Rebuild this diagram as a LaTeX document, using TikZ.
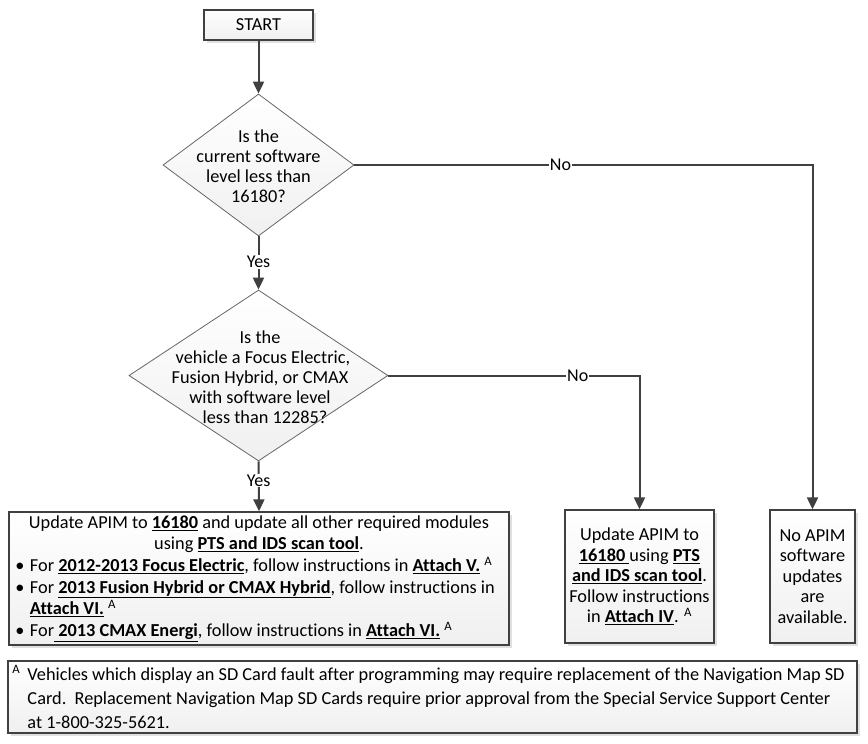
\documentclass[tikz,border=0pt]{standalone}
\usepackage{fontspec}
\setmainfont{Carlito}[Ligatures={NoCommon,NoContextual}]
\usetikzlibrary{shapes.geometric,arrows.meta,shadows}
\newcommand\ub[1]{\underline{\textbf{#1}}}
\newcommand\supA{\textsuperscript{A}}
\newcommand\bul{\hspace*{4pt}\makebox[14.5pt][l]{\textbullet}}
\begin{document}
\begin{tikzpicture}[x=1pt,y=1pt,
 proc/.style={draw=black!75, line width=1.3pt, top color=white, bottom color=black!6,
   drop shadow={shadow xshift=3pt, shadow yshift=-3pt, fill=black!12, opacity=1}, inner sep=0pt},
 dec/.style={diamond, draw=black!60, line width=0.8pt, top color=white, bottom color=black!6, inner sep=0pt},
 flow/.style={draw=black!75, line width=2pt, -{Triangle[width=11pt,length=12pt]}},
 lab/.style={fill=white, inner sep=1pt, font=\fontsize{18}{20}\selectfont},
 txt/.style={align=center, inner sep=0pt, font=\fontsize{18.3}{20}\selectfont}
]
\useasboundingbox (0,0) rectangle (868,-744);
\fill[white] (0,0) rectangle (868,-744);

\node[proc, minimum width=109, minimum height=30, font=\fontsize{18.3}{20}\selectfont] (start) at (258.5,-25) {START};

\node[dec, minimum width=191, minimum height=142] (d1) at (258.5,-165) {};
\node[txt] (d1t) at (258.5,-166) {Is the\\current software\\level less than\\16180?};

\node[dec, minimum width=259, minimum height=171] (d2) at (258.5,-375.5) {};
\node[txt] (d2t) at (260,-377) {Is the\\\hspace*{6pt}vehicle a Focus Electric,\\Fusion Hybrid, or CMAX\\with software level\\\hspace*{10pt}less than 12285?};

\node[proc, minimum width=500, minimum height=133] (b1) at (259,-578.5) {%
\begin{minipage}{495pt}\fontsize{18.3}{21.6}\selectfont
\centering Update APIM to \ub{16180} and update all other required modules\\
using \ub{PTS and IDS scan tool}.\par
\raggedright
\bul For \ub{2012-2013 Focus Electric}, follow instructions in \ub{Attach V.} \supA\\
\bul For \ub{2013 Fusion Hybrid or CMAX Hybrid}, follow instructions in\\
\hspace*{18.5pt}\ub{Attach VI.} \supA\\
\bul For\ub{ 2013 CMAX Energi}, follow instructions in \ub{Attach VI.} \supA
\end{minipage}};

\node[proc, minimum width=149, minimum height=133, align=center,
  font=\fontsize{18.3}{20.5}\selectfont] (b2) at (639.5,-576.5)
  {Update APIM to\\\ub{16180 }using \ub{PTS}\\\ub{and IDS scan tool}.\\Follow instructions\\in \ub{Attach IV}. \supA};

\node[proc, minimum width=85, minimum height=133, align=center,
  font=\fontsize{18.3}{20.5}\selectfont] (b3) at (812.5,-576.5)
  {No APIM\\software\\updates\\are\\available.};

\node[proc, minimum width=849, minimum height=72] (fn) at (432.5,-697) {%
\begin{minipage}{840pt}\fontsize{18.3}{24}\selectfont
\makebox[15pt][l]{\supA}Vehicles which display an SD Card fault after programming may require replacement of the Navigation Map SD\\
\hspace*{15pt}Card.\ \ Replacement Navigation Map SD Cards require prior approval from the Special Service Support Center\\
\hspace*{15pt}at 1-800-325-5621.
\end{minipage}};

\draw[flow] (start.south) -- (d1.north);
\draw[flow] (d1.south) -- node[lab, pos=0.48] (y1) {Yes} (d2.north);
\draw[flow] (d2.south) -- node[lab, pos=0.38] (y2) {Yes} (b1.north);
\draw[flow] (d1.east) -| node[lab, pos=0.225] (n1) {No} (b3.north);
\draw[flow] (d2.east) -| node[lab, pos=0.377] (n2) {No} (b2.north);
\end{tikzpicture}
\end{document}
